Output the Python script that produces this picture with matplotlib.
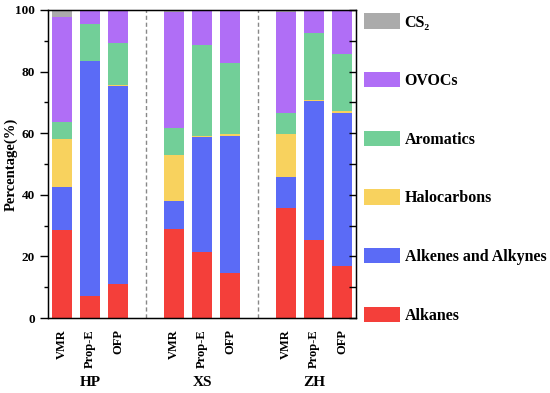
import numpy as np
import matplotlib
matplotlib.use("Agg")
import matplotlib.pyplot as plt
from matplotlib.patches import Patch
from matplotlib.ticker import MultipleLocator

# === Data ===
groups = ["HP", "XS", "ZH"]
metrics = ["VMR", "Prop-E", "OFP"]
classes = ["Alkanes", "Alkenes and Alkynes", "Halocarbons", "Aromatics", "OVOCs", "CS₂"]
colors = ["#f43f3a", "#5b6bf6", "#f8d25e", "#72cf98", "#b06ef6", "#ababab"]

# percentages per bar (HP VMR, HP Prop-E, HP OFP, XS ..., ZH ...)
alkanes = [28.5, 7.0, 11.0, 29.0, 21.5, 14.7, 35.8, 25.3, 17.0]
alkenes = [14.0, 76.3, 64.3, 9.0, 37.4, 44.5, 10.1, 45.2, 49.7]
halocarbons = [15.5, 0.2, 0.5, 15.0, 0.3, 0.5, 13.7, 0.2, 0.6]
aromatics = [5.7, 12.0, 13.4, 8.7, 29.4, 23.2, 7.1, 21.9, 18.4]
ovocs = [34.1, 4.5, 10.8, 37.8, 11.4, 17.1, 32.8, 7.4, 14.3]
cs2 = [2.2, 0.0, 0.0, 0.5, 0.0, 0.0, 0.5, 0.0, 0.0]

series = [alkanes, alkenes, halocarbons, aromatics, ovocs, cs2]

plt.rcParams["font.family"] = ["Liberation Serif", "DejaVu Serif"]
plt.rcParams["font.weight"] = "bold"

fig = plt.figure(figsize=(5.5, 3.93), dpi=100)
ax = fig.add_axes([0.0873, 0.1908, 0.5600, 0.7838])

# bar positions: 3 per group, one empty slot between groups
pos = []
for g in range(len(groups)):
    for m in range(len(metrics)):
        pos.append(g * 4 + m)
pos = np.array(pos)

bottom = np.zeros(len(pos))
for vals, col, name in zip(series, colors, classes):
    vals = np.array(vals)
    ax.bar(pos, vals, width=0.68, bottom=bottom, color=col, label=name, linewidth=0)
    bottom += vals

for x in [3, 7]:
    ax.axvline(x, color="#888888", linestyle=(0, (3, 2)), linewidth=1)

ax.set_xlim(-0.5, 10.5)
ax.set_ylim(0, 100)
ax.set_xticks(pos)
ax.set_xticklabels(metrics * len(groups), rotation=90, fontsize=9, fontweight="bold")
ax.tick_params(axis="x", length=0, pad=8)
ax.yaxis.set_major_locator(MultipleLocator(20))
ax.yaxis.set_minor_locator(MultipleLocator(10))
ax.tick_params(axis="y", which="major", direction="out", length=6, width=1, labelsize=9.5)
ax.tick_params(axis="y", which="minor", direction="out", length=3, width=1)
ax.set_ylabel("Percentage(%)", fontsize=10.5, fontweight="bold")
ax.yaxis.set_label_coords(-0.097, 0.5)

# inward ticks on the right spine
ax2 = ax.twinx()
ax2.set_ylim(0, 100)
ax2.yaxis.set_major_locator(MultipleLocator(10))
ax2.tick_params(axis="y", direction="in", length=5, width=1, labelright=False)

for g, name in enumerate(groups):
    ax.text(g * 4 + 1, -0.208, name, transform=ax.get_xaxis_transform(),
            ha="center", va="center", fontsize=11, fontweight="bold")

for sp in ax.spines.values():
    sp.set_linewidth(1)

handles = [Patch(facecolor=c, edgecolor="none") for c in colors]
leg = fig.legend(handles[::-1], classes[::-1], loc="upper left",
                 bbox_to_anchor=(0.650, 0.982), frameon=False,
                 prop={"weight": "bold", "size": 11.5},
                 handlelength=2.25, handleheight=1.1, labelspacing=2.6,
                 handletextpad=0.3, borderaxespad=0, borderpad=0.4)

fig.savefig("out.png", dpi=100)
